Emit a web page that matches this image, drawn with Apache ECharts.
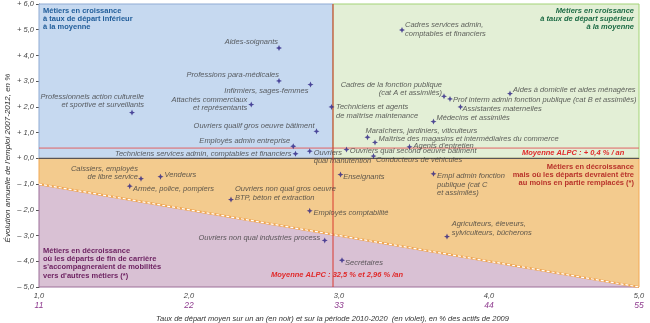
<!DOCTYPE html>
<html>
<head>
<meta charset="utf-8">
<script src="https://cdn.jsdelivr.net/npm/echarts@6/dist/echarts.min.js"></script>
<style>
  html, body { margin: 0; padding: 0; background: #ffffff; }
  #chart { width: 650px; height: 323px; }
</style>
</head>
<body>
<div id="chart"></div>
<script>
// Métiers : taux de départ en fin de carrière vs évolution annuelle de l'emploi (ALPC)
const jobNames = [
  'Aides-soignants',
  'Professions para-médicales',
  'Infirmiers, sages-femmes',
  'Attachés commerciaux\net représentants',
  'Professionnels action culturelle\net sportive et surveillants',
  'Ouvriers qualif gros oeuvre bâtiment',
  'Employés admin entreprise',
  'Techniciens services admin, comptables et financiers',
  'Ouvriers\nqual manutention',
  'Techniciens et agents\nde maîtrise maintenance',
  'Cadres services admin,\ncomptables et financiers',
  'Cadres de la fonction publique\n(cat A et assimilés)',
  'Prof interm admin fonction publique (cat B et assimilés)',
  'Assistantes maternelles',
  'Aides à domicile et aides ménagères',
  'Médecins et assimilés',
  'Maraîchers, jardiniers, viticulteurs',
  'Maîtrise des magasins et intermédiaires du commerce',
  "Agents d'entretien",
  'Ouvriers qual second oeuvre bâtiment',
  'Conducteurs de véhicules',
  'Empl admin fonction\npublique (cat C\net assimilés)',
  'Agriculteurs, éleveurs,\nsylviculteurs, bûcherons',
  'Enseignants',
  'Employés comptabilité',
  'Ouvriers non qual gros oeuvre\nBTP, béton et extraction',
  'Ouvriers non qual industries process',
  'Secrétaires',
  'Caissiers, employés\nde libre service',
  'Vendeurs',
  'Armée, police, pompiers'
];

// Taux de départ moyen sur un an, en %
const departureRate = [
  2.60, 2.60, 2.81, 2.415, 1.62, 2.85, 2.695, 2.71, 2.805, 2.95,
  3.42, 3.70, 3.74, 3.81, 4.14, 3.63, 3.19, 3.24, 3.47, 3.05,
  3.23, 3.63, 3.72, 3.01, 2.805, 2.28, 2.905, 3.02, 1.68, 1.81, 1.605
];

// Évolution annuelle de l'emploi 2007-2012, en %
const employmentGrowth = [
  4.29, 3.01, 2.87, 2.09, 1.78, 1.05, 0.47, 0.18, 0.28, 2.00,
  4.99, 2.41, 2.31, 2.00, 2.52, 1.43, 0.82, 0.62, 0.45, 0.34,
  0.09, -0.60, -3.04, -0.63, -2.04, -1.60, -3.19, -3.96, -0.79, -0.71, -1.08
];

// Graduations : taux annuel (noir) et taux sur 2010-2020 (violet)
const annualRateTicks = ['1,0', '2,0', '3,0', '4,0', '5,0'];
const periodRateTicks = ['11', '22', '33', '44', '55'];

// Moyennes régionales
const avgDepartureRate = 2.96;
const avgEmploymentGrowth = 0.4;

// Bornes des axes
const xMin = 1, xMax = 5, yMin = -5, yMax = 6;

// Placement des étiquettes : [décalage x, décalage y, alignement]
const labelPlacement = [
  [-1, -6, 'right'], [0, -6.5, 'right'], [-2, 6, 'right'], [-4, -1, 'right'],
  [12, -11.6, 'right'], [-2, -5.5, 'right'], [-3, -5.3, 'right'], [-4, 0, 'right'],
  [4, 6, 'left'], [4.5, 4.6, 'left'], [3, -0.5, 'left'], [-2, -7.7, 'right'],
  [3, 0.6, 'left'], [2, 2, 'left'], [3, -4, 'left'], [3, -4, 'left'],
  [-2, -6.3, 'left'], [3.6, -3.3, 'left'], [4, -1, 'left'], [3.3, 1.7, 'left'],
  [2.4, 3.6, 'left'], [3.5, 10.7, 'left'], [4.7, -8.2, 'left'], [2.7, 2, 'left'],
  [3.7, 2, 'left'], [4, -6, 'left'], [-4.6, -2.3, 'right'], [3, 2.3, 'left'],
  [-3, -5.8, 'right'], [4, -2, 'left'], [3.3, 2.6, 'left']
];

// Zones du quadrant (sommets en coordonnées de données)
const zones = [
  { pts: [[xMin, 0], [avgDepartureRate, 0], [avgDepartureRate, yMax], [xMin, yMax]], fill: '#c6d9f0', stroke: '#8fabd3' },
  { pts: [[avgDepartureRate, 0], [xMax, 0], [xMax, yMax], [avgDepartureRate, yMax]], fill: '#e3efd6', stroke: '#a3d377' },
  { pts: [[xMin, 0], [xMax, 0], [xMax, -xMax], [xMin, -xMin]], fill: '#f3cb8e', stroke: '#f2a954' },
  { pts: [[xMin, -xMin], [xMax, -xMax], [xMin, yMin]], fill: '#d9c1d4', stroke: '#9c6f99' }
];

const fmtNum = v => Math.abs(v).toFixed(1).replace('.', ',');
const FONT = "'Liberation Sans', Arial, sans-serif";
const MARK = 6;

const chart = echarts.init(document.getElementById('chart'), null, { renderer: 'canvas' });

const scatterData = jobNames.map((name, i) => ({
  name,
  value: [departureRate[i], employmentGrowth[i]],
  label: {
    position: [MARK / 2 + labelPlacement[i][0], MARK / 2 + labelPlacement[i][1]],
    align: labelPlacement[i][2],
    verticalAlign: 'middle'
  }
}));

const option = {
  animation: false,
  backgroundColor: '#ffffff',
  grid: { left: 39, right: 11, top: 4, bottom: 36, containLabel: false, outerBoundsMode: 'none' },
  xAxis: {
    type: 'value', min: xMin, max: xMax, interval: 1,
    splitLine: { show: false },
    axisLine: { show: true, lineStyle: { color: '#a4b4e0', width: 1 } },
    axisTick: { show: false },
    axisLabel: {
      margin: 4,
      formatter: (v) => {
        const i = Math.round(v - xMin);
        return '{a|' + annualRateTicks[i] + '}\n{b|' + periodRateTicks[i] + '}';
      },
      rich: {
        a: { fontSize: 7.5, fontStyle: 'italic', color: '#444444', fontFamily: FONT, lineHeight: 10 },
        b: { fontSize: 8.5, fontStyle: 'italic', color: '#8e3a8e', fontFamily: FONT, lineHeight: 10 }
      }
    },
    name: 'Taux de départ moyen sur un an (en noir) et sur la période 2010-2020  (en violet), en % des actifs de 2009',
    nameLocation: 'middle',
    nameGap: 27,
    nameTextStyle: { fontSize: 7.5, fontStyle: 'italic', color: '#333333', fontFamily: FONT, padding: [0, 13, 0, 0] }
  },
  yAxis: {
    type: 'value', min: yMin, max: yMax, interval: 1,
    splitLine: { show: false },
    axisLine: { show: true, onZero: false, lineStyle: { color: '#555555', width: 1 } },
    axisTick: { show: true, length: 3, lineStyle: { color: '#555555' } },
    axisLabel: {
      margin: 5,
      fontSize: 7.5, fontStyle: 'italic', color: '#444444', fontFamily: FONT,
      formatter: v => (v < 0 ? '– ' : '+ ') + fmtNum(v)
    }
  },
  series: [
    {
      type: 'custom',
      silent: true,
      z: 1,
      data: zones.map((z, i) => i),
      renderItem: (params, api) => {
        const z = zones[params.dataIndex];
        return {
          type: 'polygon',
          shape: { points: z.pts.map(p => api.coord(p)) },
          style: { fill: z.fill, stroke: z.stroke, lineWidth: 1 }
        };
      }
    },
    {
      // frontière entre zones de décroissance (y = -x)
      type: 'line', silent: true, z: 2, symbol: 'none',
      data: [[xMin, -xMin], [xMax, -xMax]],
      lineStyle: { color: '#f0a650', width: 2.2 }
    },
    {
      // tirets blancs sur la frontière
      type: 'line', silent: true, z: 2, symbol: 'none',
      data: [[xMin, -xMin], [xMax, -xMax]],
      lineStyle: { color: '#ffffff', width: 1.2, type: [3, 2] }
    },
    {
      // axe zéro
      type: 'line', silent: true, z: 3, symbol: 'none',
      data: [[xMin, 0], [xMax, 0]],
      lineStyle: { color: '#3f4656', width: 1 }
    },
    {
      // moyenne d'évolution de l'emploi
      type: 'line', silent: true, z: 3, symbol: 'none',
      data: [[xMin, avgEmploymentGrowth], [xMax, avgEmploymentGrowth]],
      lineStyle: { color: '#e06464', width: 1 }
    },
    {
      // moyenne du taux de départ
      type: 'line', silent: true, z: 3, symbol: 'none',
      data: [[avgDepartureRate, yMin], [avgDepartureRate, yMax]],
      lineStyle: { color: '#d8382e', width: 1 }
    },
    {
      type: 'scatter',
      z: 5,
      symbol: 'path://M0,-3 L0.9,-0.9 L3,0 L0.9,0.9 L0,3 L-0.9,0.9 L-3,0 L-0.9,-0.9 Z',
      symbolSize: MARK,
      itemStyle: { color: '#2a2183' },
      data: scatterData,
      label: {
        show: true,
        formatter: '{b}',
        fontSize: 7.5,
        fontStyle: 'italic',
        fontFamily: FONT,
        color: '#3a3a3a',
        lineHeight: 8.3
      },
      labelLayout: { hideOverlap: false }
    }
  ],
  graphic: [
    {
      type: 'text', x: 7.5, y: 158, rotation: Math.PI / 2, z: 10, silent: true,
      style: {
        text: "Évolution annuelle de l'emploi 2007-2012, en %",
        font: 'italic 8px ' + FONT, fill: '#333333', textAlign: 'center', textVerticalAlign: 'middle'
      }
    },
    {
      type: 'text', x: 43, y: 6.5, z: 10, silent: true,
      style: {
        text: 'Métiers en croissance\nà taux de départ inférieur\nà la moyenne',
        font: 'bold 7.5px ' + FONT, fill: '#1f5c99', lineHeight: 8.3, textAlign: 'left', textVerticalAlign: 'top'
      }
    },
    {
      type: 'text', x: 634, y: 6.5, z: 10, silent: true,
      style: {
        text: 'Métiers en croissance\nà taux de départ supérieur\nà la moyenne',
        font: 'italic bold 7.5px ' + FONT, fill: '#1d6b45', lineHeight: 8.3, textAlign: 'right', textVerticalAlign: 'top'
      }
    },
    {
      type: 'text', x: 634, y: 162.5, z: 10, silent: true,
      style: {
        text: 'Métiers en décroissance\nmais où les départs devraient être\nau moins en partie remplacés (*)',
        font: 'bold 7.5px ' + FONT, fill: '#b8332b', lineHeight: 8.3, textAlign: 'right', textVerticalAlign: 'top'
      }
    },
    {
      type: 'text', x: 43, y: 246.5, z: 10, silent: true,
      style: {
        text: "Métiers en décroissance\noù les départs de fin de carrière\ns'accompagneraient de mobilités\nvers d'autres métiers (*)",
        font: 'bold 7.5px ' + FONT, fill: '#6b1f5f', lineHeight: 8.3, textAlign: 'left', textVerticalAlign: 'top'
      }
    },
    {
      type: 'text', x: 522, y: 152.7, z: 10, silent: true,
      style: {
        text: 'Moyenne ALPC : + 0,4 % / an',
        font: 'italic bold 7.5px ' + FONT, fill: '#e02a2a', textAlign: 'left', textVerticalAlign: 'middle'
      }
    },
    {
      type: 'text', x: 271, y: 275, z: 10, silent: true,
      style: {
        text: 'Moyenne ALPC : 32,5 % et 2,96 % /an',
        font: 'italic bold 7.5px ' + FONT, fill: '#e02a2a', textAlign: 'left', textVerticalAlign: 'middle'
      }
    }
  ]
};

chart.setOption(option);
</script>
</body>
</html>
